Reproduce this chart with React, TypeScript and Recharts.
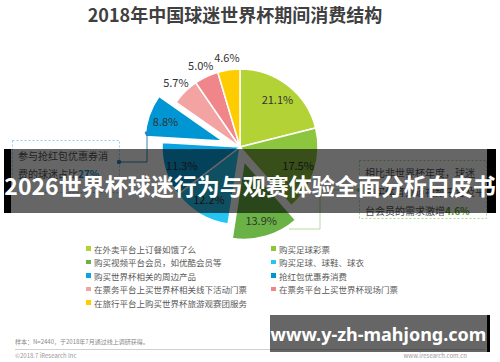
import React from 'react';
import { PieChart, Pie, Cell } from 'recharts';

const categories = [
  '在外卖平台上订餐如饿了么',
  '购买足球彩票',
  '购买视频平台会员，如优酷会员等',
  '购买足球、球鞋、球衣',
  '购买世界杯相关的周边产品',
  '抢红包优惠券消费',
  '在票务平台上买世界杯相关线下活动门票',
  '在票务平台上买世界杯现场门票',
  '在旅行平台上购买世界杯旅游观赛团服务',
];
const shares = [21.1, 17.5, 13.9, 12.2, 11.3, 8.8, 5.7, 5.0, 4.6];

const COLORS = [
  '#b3d235', '#8cc63f', '#6ab245', '#25c5f3', '#0aa2e0',
  '#0096d3', '#f4a3a3', '#f1868a', '#ffcc00',
];
// index -> how far the slice is pulled out (px)
const EXPLODE: Record<number, number> = { 2: 15, 5: 18 };

const CX = 240;
const CY = 147;
const R = 78;
const RAD = Math.PI / 180;
const FONT = '"Noto Sans CJK SC", "Noto Sans", sans-serif';

const data = categories.map((name, i) => ({ name, value: shares[i] }));
const total = shares.reduce((a, b) => a + b, 0);
const midAngles = shares.map((v, i) => {
  const before = shares.slice(0, i).reduce((a, b) => a + b, 0);
  return 90 - (360 * (before + v / 2)) / total;
});

const makeLabel = (show: (i: number) => boolean) => (p: any) => {
  if (!show(p.index)) return <g />;
  const small = p.value < 6;
  const r = small ? p.outerRadius + 13 : p.outerRadius * 0.78;
  const a = -p.midAngle * RAD;
  return (
    <text
      x={p.cx + r * Math.cos(a)}
      y={p.cy + r * Math.sin(a)}
      textAnchor="middle"
      dominantBaseline="central"
      fontSize={11}
      fontFamily={FONT}
      fill="#333"
    >
      {p.value.toFixed(1)}%
    </text>
  );
};

const abs = (s: React.CSSProperties): React.CSSProperties => ({ position: 'absolute', ...s });

export default function App() {
  return (
    <div style={abs({ left: 0, top: 0, width: 500, height: 362, background: '#fff', overflow: 'hidden', fontFamily: FONT })}>
      <div style={abs({ left: 0, top: 5, width: 470, textAlign: 'center', fontSize: 18, lineHeight: '18px', fontWeight: 700, color: '#404040' })}>
        2018年中国球迷世界杯期间消费结构
      </div>

      <div style={abs({ left: 0, top: 0 })}>
        <PieChart width={500} height={362} margin={{ top: 0, right: 0, bottom: 0, left: 0 }}>
          <Pie
            data={data}
            dataKey="value"
            cx={CX}
            cy={CY}
            outerRadius={R}
            startAngle={90}
            endAngle={-270}
            stroke="#fff"
            strokeWidth={1.5}
            labelLine={false}
            label={makeLabel((i) => !(i in EXPLODE))}
            isAnimationActive={false}
          >
            {data.map((_, i) => (
              <Cell
                key={i}
                fill={i in EXPLODE ? 'transparent' : COLORS[i]}
                stroke={i in EXPLODE ? 'none' : '#fff'}
              />
            ))}
          </Pie>
          {Object.keys(EXPLODE).map((k) => {
            const idx = Number(k);
            const d = EXPLODE[idx];
            const a = midAngles[idx] * RAD;
            return (
              <Pie
                key={`ex-${idx}`}
                data={data}
                dataKey="value"
                cx={CX + d * Math.cos(a)}
                cy={CY - d * Math.sin(a)}
                outerRadius={R}
                startAngle={90}
                endAngle={-270}
                strokeWidth={1.5}
                labelLine={false}
                label={makeLabel((i) => i === idx)}
                isAnimationActive={false}
              >
                {data.map((_, i) => (
                  <Cell
                    key={i}
                    fill={i === idx ? COLORS[i] : 'transparent'}
                    stroke={i === idx ? '#fff' : 'none'}
                  />
                ))}
              </Pie>
            );
          })}
        </PieChart>
      </div>

      {/* callouts */}
      <svg width={500} height={362} style={abs({ left: 0, top: 0 })}>
        <rect x={12.5} y={140.5} width={107} height={52} fill="none" stroke="#8fd0ee" strokeDasharray="2 2" />
        <polyline points="119,162 147,162 147,133" fill="none" stroke="#2f86b8" strokeWidth={1} />
        <circle cx={119} cy={162} r={2.2} fill="#2f86b8" />
        <circle cx={146.5} cy={133} r={1.8} fill="#2f86b8" />
        <rect x={359.5} y={160.5} width={127} height={58} fill="none" stroke="#a8d88a" strokeDasharray="2 2" />
        <polyline points="359,190 320,190 320,229 289,229" fill="none" stroke="#b5dca0" strokeWidth={1} />
        <circle cx={359} cy={190} r={2} fill="#8cc63f" />
      </svg>
      <div style={abs({ left: 18, top: 147, fontSize: 10, lineHeight: '17.5px', color: '#555' })}>
        <div>参与抢红包优惠券消</div>
        <div>
          费的球迷占比<span style={{ color: '#1b8ccb', fontWeight: 700 }}>27%</span>
        </div>
      </div>
      <div style={abs({ left: 365, top: 162.5, fontSize: 10, lineHeight: '19px', color: '#555' })}>
        <div>相比非世界杯年度，球迷</div>
        <div>购买体育频道视频平台及平</div>
        <div>
          台会员的需求激增<span style={{ color: '#5aa02c', fontWeight: 700 }}>4.6%</span>
        </div>
      </div>

      {/* legend */}
      {categories.map((c, i) => {
        const col = i % 2;
        const row = Math.floor(i / 2);
        return (
          <div
            key={c}
            style={abs({
              left: col === 0 ? 86 : 271,
              top: 242 + row * 13.5,
              height: 13,
              display: 'flex',
              alignItems: 'center',
              fontSize: 8.5,
              color: '#595959',
              whiteSpace: 'nowrap',
            })}
          >
            <span style={{ width: 4.5, height: 4.5, background: COLORS[i], marginRight: 3.5, display: 'inline-block' }} />
            {c}
          </div>
        );
      })}

      {/* footer */}
      <div style={abs({ left: 15, top: 338, fontSize: 6, lineHeight: '8px', color: '#888' })}>
        样本：N=2440，于2018年7月通过线上调研获得。
      </div>
      <div style={abs({ left: 15, top: 348.5, width: 470, height: 1, background: '#d0d0d0' })} />
      <div style={abs({ left: 15, top: 352, fontSize: 6, lineHeight: '8px', color: '#999' })}>©2018.7 iResearch Inc</div>
      <div style={abs({ right: 33, top: 352, fontSize: 6, lineHeight: '8px', color: '#999' })}>www.iresearch.com.cn</div>

      {/* banner */}
      <div style={abs({ left: 4, top: 149, width: 492, height: 64, background: 'rgba(0,0,0,0.6)' })} />
      <div style={abs({ left: 4, top: 149, width: 7, height: 64, background: '#000' })} />
      <div style={abs({ left: 487, top: 149, width: 9, height: 64, background: '#000' })} />
      <div style={abs({ left: 0, top: 172, width: 500, textAlign: 'center', fontSize: 23, lineHeight: '27px', fontWeight: 700, color: '#fff', whiteSpace: 'nowrap' })}>
        2026世界杯球迷行为与观赛体验全面分析白皮书
      </div>

      {/* watermark */}
      <div style={abs({ left: 270, top: 315, width: 217, height: 37, background: 'rgba(0,0,0,0.6)' })} />
      <div style={abs({ left: 487, top: 315, width: 3, height: 37, background: '#000' })} />
      <div style={abs({ left: 270, top: 322, width: 217, textAlign: 'center', fontFamily: '"Noto Sans", sans-serif', fontSize: 18, lineHeight: '24px', fontWeight: 700, color: '#fff', whiteSpace: 'nowrap' })}>
        www.y-zh-mahjong.com
      </div>
    </div>
  );
}
